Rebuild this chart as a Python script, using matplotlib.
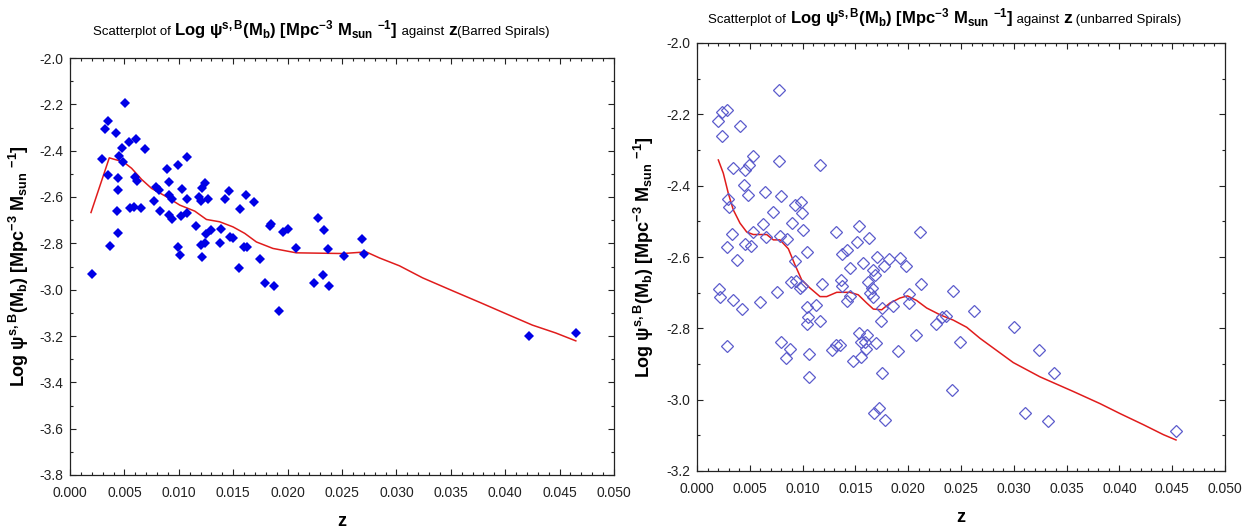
import matplotlib
matplotlib.use("Agg")
import matplotlib.pyplot as plt
from matplotlib.ticker import MultipleLocator, FormatStrFormatter

plt.rcParams['font.family'] = ['Liberation Sans', 'DejaVu Sans']
plt.rcParams['mathtext.default'] = 'regular'
plt.rcParams['axes.unicode_minus'] = False

# barred spirals: z, log psi
bar_z = [0.00199, 0.00505, 0.00351, 0.00321, 0.00419, 0.00541, 0.00603, 0.00474, 0.00688, 0.00291,
         0.0045, 0.00486, 0.01076, 0.00887, 0.00991, 0.00351, 0.00438, 0.00596, 0.00612, 0.00906,
         0.00438, 0.00795, 0.00817, 0.0103, 0.01245, 0.01214, 0.01459, 0.00906, 0.00942, 0.00771,
         0.01076, 0.01183, 0.01202, 0.01269, 0.01428, 0.01621, 0.01688, 0.0055, 0.0059, 0.00651,
         0.00431, 0.00828, 0.00906, 0.00933, 0.01021, 0.01076, 0.01562, 0.01156, 0.013, 0.01248,
         0.01385, 0.01468, 0.01498, 0.01835, 0.0185, 0.01957, 0.02006, 0.02278, 0.0233, 0.00438,
         0.00367, 0.00991, 0.01009, 0.01202, 0.01239, 0.01376, 0.01211, 0.01603, 0.0163, 0.01746,
         0.01557, 0.02073, 0.02367, 0.02321, 0.02682, 0.027, 0.0252, 0.02245, 0.02379, 0.01917,
         0.01795, 0.01872, 0.0422, 0.04651]
bar_y = [-2.933, -2.193, -2.272, -2.308, -2.323, -2.363, -2.349, -2.387, -2.392, -2.436,
         -2.422, -2.448, -2.428, -2.481, -2.462, -2.504, -2.517, -2.513, -2.531, -2.537,
         -2.571, -2.556, -2.570, -2.566, -2.541, -2.563, -2.576, -2.592, -2.610, -2.616,
         -2.610, -2.602, -2.616, -2.608, -2.608, -2.593, -2.622, -2.647, -2.642, -2.647,
         -2.662, -2.662, -2.677, -2.697, -2.683, -2.668, -2.652, -2.727, -2.743, -2.759,
         -2.737, -2.772, -2.776, -2.726, -2.717, -2.753, -2.737, -2.691, -2.743, -2.757,
         -2.812, -2.816, -2.850, -2.808, -2.798, -2.798, -2.858, -2.816, -2.816, -2.868,
         -2.908, -2.818, -2.824, -2.937, -2.782, -2.844, -2.854, -2.973, -2.984, -3.094,
         -2.973, -2.984, -3.202, -3.188]

bar_fit_z = [0.00193, 0.00361, 0.00397, 0.00489, 0.00566, 0.00658, 0.0075, 0.00887, 0.01009, 0.01147,
             0.01254, 0.01376, 0.01498, 0.01606, 0.01713, 0.01865, 0.0208, 0.02507, 0.02722, 0.02844,
             0.03028, 0.03241, 0.03517, 0.03777, 0.04037, 0.0425, 0.04465, 0.04649]
bar_fit_y = [-2.667, -2.431, -2.436, -2.448, -2.476, -2.524, -2.563, -2.599, -2.635, -2.661,
             -2.697, -2.707, -2.729, -2.757, -2.794, -2.822, -2.841, -2.844, -2.837, -2.863,
             -2.897, -2.949, -3.005, -3.057, -3.110, -3.153, -3.187, -3.221]

# unbarred spirals
unb_z = [0.00779, 0.00202, 0.0024, 0.00287, 0.0041, 0.00237, 0.00777, 0.00533, 0.00495, 0.00457,
         0.00344, 0.01168, 0.00448, 0.0048, 0.00644, 0.00795, 0.00296, 0.00306, 0.00925, 0.00985,
         0.00723, 0.00994, 0.00622, 0.00902, 0.01004, 0.00334, 0.00533, 0.00651, 0.00789, 0.00855,
         0.01316, 0.01531, 0.01629, 0.01512, 0.00287, 0.00455, 0.00509, 0.01039, 0.00376, 0.00931,
         0.0137, 0.01423, 0.01575, 0.01707, 0.01771, 0.01818, 0.02112, 0.01925, 0.01976, 0.00597,
         0.01452, 0.0167, 0.01686, 0.00893, 0.00935, 0.00978, 0.00997, 0.01184, 0.01366, 0.01373,
         0.01616, 0.01657, 0.00758, 0.01452, 0.01418, 0.01641, 0.01664, 0.02121, 0.02008, 0.02008,
         0.02427, 0.01752, 0.01859, 0.01127, 0.01039, 0.01048, 0.01039, 0.01165, 0.01742, 0.0226,
         0.0232, 0.02355, 0.02623, 0.01537, 0.0161, 0.0155, 0.01594, 0.016, 0.01698, 0.02071,
         0.02493, 0.00795, 0.00884, 0.00846, 0.01058, 0.01281, 0.01313, 0.01357, 0.01474, 0.0155,
         0.01906, 0.01058, 0.01755, 0.02418, 0.01679, 0.01726, 0.01783, 0.02999, 0.03241, 0.03384,
         0.03106, 0.03327, 0.04536, 0.00208, 0.00218, 0.00426, 0.00341, 0.00284]
unb_y = [-2.132, -2.218, -2.194, -2.188, -2.232, -2.261, -2.331, -2.318, -2.341, -2.357,
         -2.351, -2.341, -2.399, -2.425, -2.417, -2.429, -2.437, -2.461, -2.455, -2.445,
         -2.475, -2.478, -2.508, -2.505, -2.525, -2.535, -2.531, -2.545, -2.541, -2.550,
         -2.531, -2.512, -2.548, -2.557, -2.571, -2.564, -2.569, -2.585, -2.609, -2.611,
         -2.592, -2.580, -2.618, -2.601, -2.624, -2.605, -2.531, -2.603, -2.625, -2.725,
         -2.632, -2.636, -2.651, -2.670, -2.666, -2.686, -2.681, -2.676, -2.664, -2.680,
         -2.670, -2.686, -2.699, -2.708, -2.724, -2.701, -2.711, -2.676, -2.703, -2.730,
         -2.696, -2.744, -2.737, -2.734, -2.739, -2.767, -2.788, -2.779, -2.780, -2.789,
         -2.767, -2.765, -2.750, -2.813, -2.818, -2.839, -2.837, -2.857, -2.840, -2.820,
         -2.839, -2.837, -2.857, -2.883, -2.873, -2.861, -2.848, -2.846, -2.891, -2.879,
         -2.864, -2.936, -2.926, -2.973, -3.036, -3.023, -3.056, -2.796, -2.860, -2.924,
         -3.036, -3.060, -3.087, -2.689, -2.711, -2.745, -2.720, -2.849]

unb_fit_z = [0.00202, 0.00249, 0.00296, 0.00344, 0.00407, 0.00471, 0.00533, 0.0066, 0.00723, 0.00786,
             0.00865, 0.00928, 0.00991, 0.0107, 0.01165, 0.01228, 0.01323, 0.01449, 0.01527, 0.01607,
             0.0167, 0.01749, 0.01828, 0.01922, 0.01993, 0.0208, 0.02175, 0.02301, 0.02427, 0.02554,
             0.0268, 0.02995, 0.03248, 0.03563, 0.03816, 0.04006, 0.04226, 0.04416, 0.04536]
unb_fit_y = [-2.328, -2.365, -2.421, -2.468, -2.505, -2.530, -2.537, -2.537, -2.552, -2.552,
             -2.577, -2.622, -2.664, -2.687, -2.711, -2.711, -2.699, -2.699, -2.706, -2.729,
             -2.746, -2.748, -2.729, -2.715, -2.709, -2.722, -2.743, -2.762, -2.777, -2.797,
             -2.828, -2.896, -2.936, -2.977, -3.011, -3.039, -3.070, -3.098, -3.113]

W, H = 1249, 530
fig = plt.figure(figsize=(W / 100, H / 100), dpi=100)

ax1 = fig.add_axes([70 / W, 1 - 475 / H, (614 - 70) / W, (475 - 58) / H])
ax2 = fig.add_axes([697 / W, 1 - 471 / H, (1225 - 697) / W, (471 - 43) / H])

ax1.plot(bar_z, bar_y, 'D', color='#0000e6', markersize=5.3, markeredgewidth=0, zorder=3)
ax1.plot(bar_fit_z, bar_fit_y, '-', color='#e01c1c', lw=1.1, zorder=2)

ax2.plot(unb_z, unb_y, 'D', markerfacecolor='none', markeredgecolor='#5c5ccc',
         markersize=5.8, markeredgewidth=0.9, zorder=3)
ax2.plot(unb_fit_z, unb_fit_y, '-', color='#e01c1c', lw=1.1, zorder=2)

ylab = 'Log ψ$^{s,B}$(M$_b$) [Mpc$^{-3}$ M$_{sun}$ $^{-1}$]'

for ax, lo, hi in [(ax1, -3.8, -2.0), (ax2, -3.2, -2.0)]:
    ax.set_xlim(0, 0.05)
    ax.set_ylim(lo, hi)
    ax.xaxis.set_major_locator(MultipleLocator(0.005))
    ax.xaxis.set_minor_locator(MultipleLocator(0.001))
    ax.yaxis.set_major_locator(MultipleLocator(0.2))
    ax.yaxis.set_minor_locator(MultipleLocator(0.1))
    ax.xaxis.set_major_formatter(FormatStrFormatter('%.3f'))
    ax.yaxis.set_major_formatter(FormatStrFormatter('%.1f'))
    ax.tick_params(which='both', direction='in', top=True, right=True, labelsize=10, colors='#222222')
    ax.tick_params(which='major', length=4, width=0.8)
    ax.tick_params(which='minor', length=2.5, width=0.8)
    ax.tick_params(axis='x', which='major', pad=8)
    ax.tick_params(axis='y', which='major', pad=5)
    for s in ax.spines.values():
        s.set_linewidth(0.9)
        s.set_color('#222222')
    ax.set_xlabel('z', fontsize=13, fontweight='bold', labelpad=9)
    ax.set_ylabel(ylab, fontsize=13, fontweight='bold')

ax1.yaxis.set_label_coords(-0.071, 0.5)
ax2.yaxis.set_label_coords(-0.078, 0.5)


def chain(x0, y0, parts):
    r = fig.canvas.get_renderer()
    x = x0
    for s, size, weight in parts:
        t = fig.text(x / W, 1 - y0 / H, s, fontsize=size, fontweight=weight,
                     ha='left', va='baseline')
        x += t.get_window_extent(r).width


head = 'Log ψ$^{s,B}$(M$_b$) [Mpc$^{-3}$ M$_{sun}$ $^{-1}$]'
chain(93, 35, [('Scatterplot of ', 9.5, 'normal'), (head, 12, 'bold'),
               (' against ', 9.5, 'normal'), ('z', 12.5, 'bold'),
               ('(Barred Spirals)', 9.5, 'normal')])
chain(708, 23, [('Scatterplot of ', 9.5, 'normal'), (head, 12, 'bold'),
                (' against ', 9.5, 'normal'), ('z', 12.5, 'bold'),
                (' (unbarred Spirals)', 9.5, 'normal')])

fig.savefig('out.png', dpi=100)
